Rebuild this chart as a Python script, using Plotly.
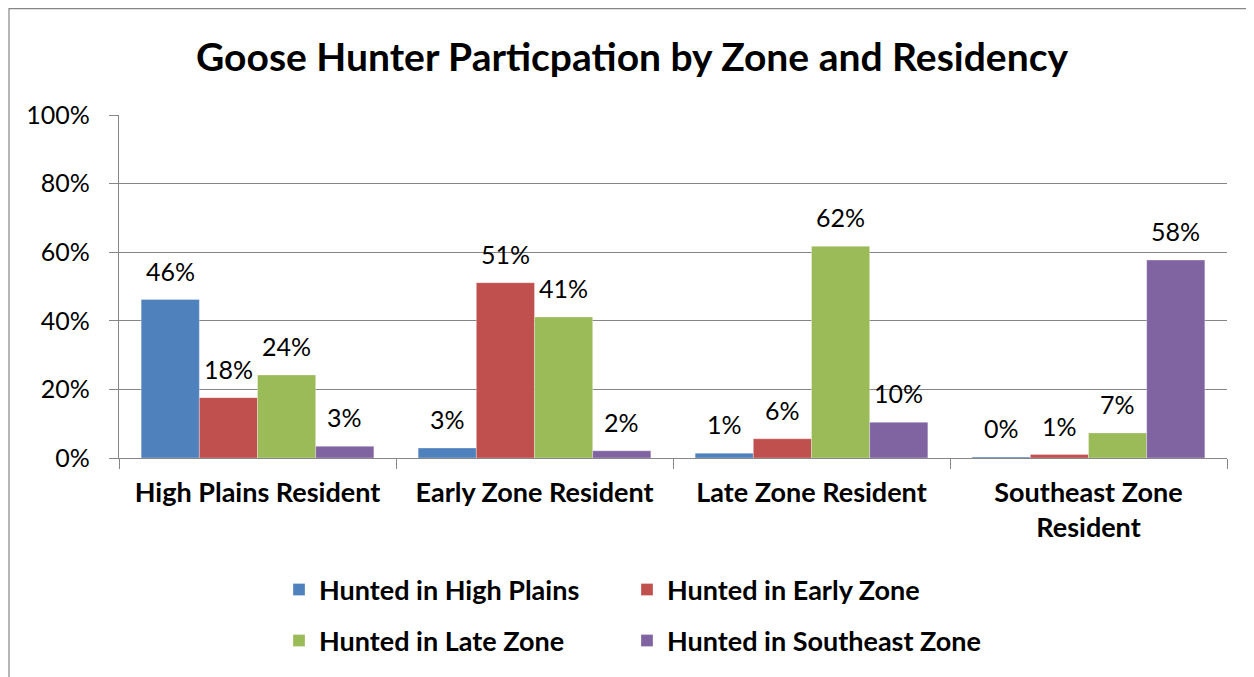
import plotly.graph_objects as go

categories = ["High Plains Resident", "Early Zone Resident", "Late Zone Resident", "Southeast Zone<br>Resident"]
series_names = ["Hunted in High Plains", "Hunted in Early Zone", "Hunted in Late Zone", "Hunted in Southeast Zone"]
hunted_high_plains = [0.462, 0.029, 0.014, 0.003]
hunted_early_zone = [0.176, 0.511, 0.056, 0.010]
hunted_late_zone = [0.242, 0.411, 0.617, 0.073]
hunted_southeast = [0.034, 0.021, 0.104, 0.577]
colors = ["#4F81BD", "#C0504D", "#9BBB59", "#8064A2"]
y_ticks = [0, 0.2, 0.4, 0.6, 0.8, 1.0]

series = [hunted_high_plains, hunted_early_zone, hunted_late_zone, hunted_southeast]

FONT = "Lato"
W, H = 1254, 677
OFF = 8  # page body margin offset
ML, MR, MT, MB = 119 - OFF, 27 + OFF, 115 - OFF, 219 + OFF
BARGAP = 0.16
plot_w = W - ML - MR
plot_h = H - MT - MB

fig = go.Figure()
legend_ids = ["legend", "legend2", "legend3", "legend4"]
for i, (name, vals) in enumerate(zip(series_names, series)):
    fig.add_trace(go.Bar(
        x=categories, y=vals, name=name, showlegend=True,
        marker=dict(color=colors[i], line=dict(color="rgba(255,255,255,0.5)", width=0.6)),
        legend=legend_ids[i],
    ))

# data labels as annotations above each bar
cat_px = plot_w / len(categories)
bar_px = cat_px * (1 - BARGAP) / len(series)
annotations = []
for i, vals in enumerate(series):
    xs = (i - (len(series) - 1) / 2) * bar_px
    for c, v in zip(categories, vals):
        annotations.append(dict(
            x=c, y=v, xref="x", yref="y", text=f"{round(v*100)}%",
            showarrow=False, yanchor="bottom", xanchor="center",
            xshift=xs, yshift=12,
            font=dict(family=FONT, size=25, color="#000000"),
        ))

legend_font = dict(family=FONT, size=27, weight="bold", color="#000000")
col_x = [279, 627, 279, 627]
row_y = [590, 590, 641, 641]
legend_layout = {}
for lid, cx, ry in zip(legend_ids, col_x, row_y):
    legend_layout[lid] = dict(orientation="h", xref="container", yref="container",
                              x=(cx - OFF) / W, xanchor="left",
                              y=1 - (ry - OFF) / H, yanchor="middle",
                              font=legend_font, bgcolor="rgba(0,0,0,0)", visible=True)

fig.update_layout(
    width=W, height=H, showlegend=True,
    margin=dict(l=ML, r=MR, t=MT, b=MB, autoexpand=False),
    paper_bgcolor="white", plot_bgcolor="white",
    barmode="group", bargap=BARGAP, bargroupgap=0,
    title=dict(text="<b>Goose Hunter Particpation by Zone and Residency</b>",
               x=(632 - OFF) / W, xanchor="center", y=1 - (57 - OFF) / H, yanchor="middle",
               font=dict(family=FONT, size=39, color="#000000")),
    font=dict(family=FONT, color="#000000"),
    annotations=annotations,
    shapes=[
        dict(type="line", xref="paper", yref="paper",
             x0=(1 - ML) / plot_w, x1=(W + 5 - ML) / plot_w,
             y0=(H - MB - 0.6) / plot_h, y1=(H - MB - 0.6) / plot_h,
             line=dict(color="#868686", width=1.2)),
        dict(type="line", xref="paper", yref="paper",
             x0=(1 - ML) / plot_w, x1=(1 - ML) / plot_w,
             y0=(H - MB) / plot_h, y1=(H - MB - H - 10) / plot_h,
             line=dict(color="#868686", width=1.2)),
    ],
    **legend_layout,
)

fig.update_xaxes(
    type="category", showgrid=False, showline=True, linecolor="#868686", linewidth=1.2,
    ticks="outside", tickson="boundaries", ticklen=10, tickcolor="#868686", tickwidth=1.2,
    ticklabelstandoff=10,
    tickfont=dict(family=FONT, size=27, weight="bold", color="#000000"),
)
fig.update_yaxes(
    range=[0, 1], tickvals=y_ticks, tickformat=".0%",
    showgrid=True, gridcolor="#868686", gridwidth=1.2,
    showline=True, linecolor="#868686", linewidth=1.2,
    ticks="outside", ticklen=9, tickcolor="#868686", tickwidth=1.2,
    ticklabelstandoff=14,
    tickfont=dict(family=FONT, size=25, color="#000000"),
    zeroline=False,
)

fig.write_html("out.html")
